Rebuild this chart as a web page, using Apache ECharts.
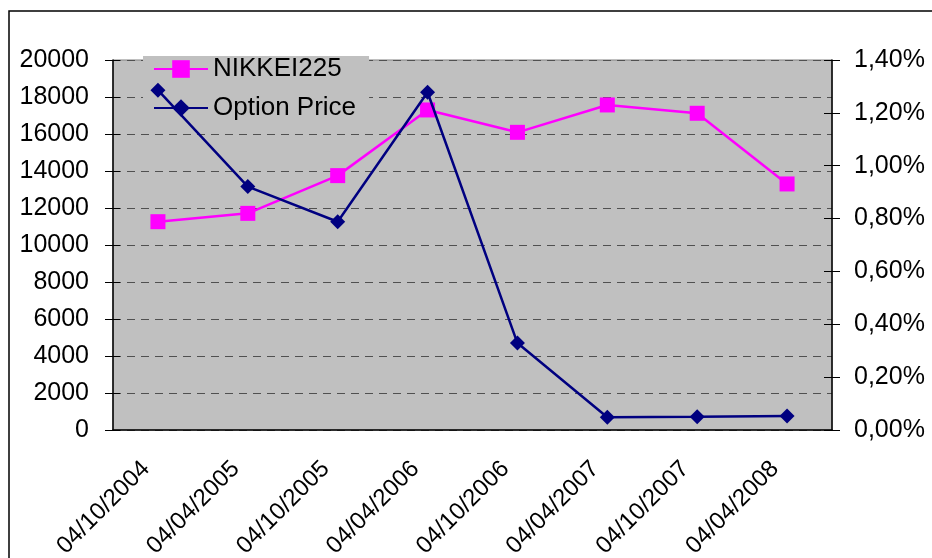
<!DOCTYPE html>
<html>
<head>
<meta charset="utf-8">
<script src="https://cdn.jsdelivr.net/npm/echarts@6/dist/echarts.min.js"></script>
<style>
  html, body { margin: 0; padding: 0; background: #fff; }
  #chart { width: 932px; height: 558px; }
</style>
</head>
<body>
<div id="chart"></div>
<script>
  // data
  var dates = ['04/10/2004', '04/04/2005', '04/10/2005', '04/04/2006', '04/10/2006', '04/04/2007', '04/10/2007', '04/04/2008'];
  var nikkei = [11260, 11710, 13750, 17300, 16090, 17570, 17120, 13300];
  var optionPrice = [1.286, 0.921, 0.788, 1.278, 0.329, 0.048, 0.050, 0.053]; // in %

  var font = 'Liberation Sans, Arial, sans-serif';
  var chart = echarts.init(document.getElementById('chart'));

  function pct(v) {
    return v.toFixed(2).replace('.', ',') + '%';
  }

  var option = {
    animation: false,
    backgroundColor: '#fff',
    graphic: [{
      type: 'rect',
      shape: {x: 9, y: 11, width: 960, height: 600},
      style: {fill: 'none', stroke: '#000', lineWidth: 1.5},
      z: -1
    }],
    legend: {
      orient: 'vertical',
      left: 143,
      top: 56,
      z: 1,
      padding: [0, 13, 4, 10],
      itemGap: 13,
      itemWidth: 54,
      itemHeight: 22,
      backgroundColor: '#c0c0c0',
      textStyle: {fontFamily: font, fontSize: 26, color: '#000'},
      data: ['NIKKEI225', 'Option Price']
    },
    grid: {
      show: true,
      left: 113,
      right: 100,
      top: 60,
      height: 370,
      outerBoundsMode: 'none',
      containLabel: false,
      backgroundColor: '#c0c0c0',
      borderColor: '#808080',
      borderWidth: 1
    },
    xAxis: [{
      type: 'category',
      data: dates,
      boundaryGap: true,
      axisLine: {lineStyle: {color: '#000', width: 1.5}},
      axisTick: {inside: true, length: 7, lineStyle: {color: '#000'}},
      axisLabel: {rotate: 45, margin: 23, padding: [0, 17, 0, 0], fontFamily: font, fontSize: 24, color: '#000', interval: 0},
      splitLine: {show: false}
    }, {
      type: 'category',
      data: dates,
      position: 'bottom',
      boundaryGap: true,
      axisLine: {show: false},
      axisTick: {length: 7, lineStyle: {color: '#000'}},
      axisLabel: {show: false},
      splitLine: {show: false}
    }],
    yAxis: [{
      type: 'value',
      min: 0,
      max: 20000,
      interval: 2000,
      axisLine: {show: true, lineStyle: {color: '#000', width: 1.5}},
      axisTick: {show: true, length: 8, lineStyle: {color: '#000'}},
      axisLabel: {margin: 24, fontFamily: font, fontSize: 25, color: '#000', formatter: function (v) { return String(v); }},
      splitLine: {show: true, lineStyle: {color: '#505050', type: [8, 6], width: 1.2}}
    }, {
      type: 'value',
      position: 'right',
      min: 0,
      max: 1.4,
      interval: 0.2,
      axisLine: {show: true, lineStyle: {color: '#000', width: 1.5}},
      axisTick: {show: true, length: 8, lineStyle: {color: '#000'}},
      axisLabel: {margin: 22, fontFamily: font, fontSize: 25, color: '#000', formatter: pct},
      splitLine: {show: false}
    }, {
      type: 'value',
      position: 'left',
      min: 0,
      max: 20000,
      interval: 2000,
      axisLine: {show: false},
      axisTick: {show: true, inside: true, length: 7, lineStyle: {color: '#000'}},
      axisLabel: {show: false},
      splitLine: {show: false}
    }, {
      type: 'value',
      position: 'right',
      min: 0,
      max: 1.4,
      interval: 0.2,
      axisLine: {show: false},
      axisTick: {show: true, inside: true, length: 8, lineStyle: {color: '#000'}},
      axisLabel: {show: false},
      splitLine: {show: false}
    }],
    series: [{
      name: 'NIKKEI225',
      type: 'line',
      z: 3,
      xAxisIndex: 0,
      yAxisIndex: 0,
      data: nikkei,
      symbol: 'rect',
      symbolSize: 15,
      color: '#ff00ff',
      lineStyle: {color: '#ff00ff', width: 2.5},
      itemStyle: {color: '#ff00ff'}
    }, {
      name: 'Option Price',
      type: 'line',
      z: 4,
      xAxisIndex: 0,
      yAxisIndex: 1,
      data: optionPrice,
      symbol: 'diamond',
      symbolSize: 15,
      color: '#000080',
      lineStyle: {color: '#000080', width: 2.5},
      itemStyle: {color: '#000080'}
    }]
  };

  chart.setOption(option);
</script>
</body>
</html>
